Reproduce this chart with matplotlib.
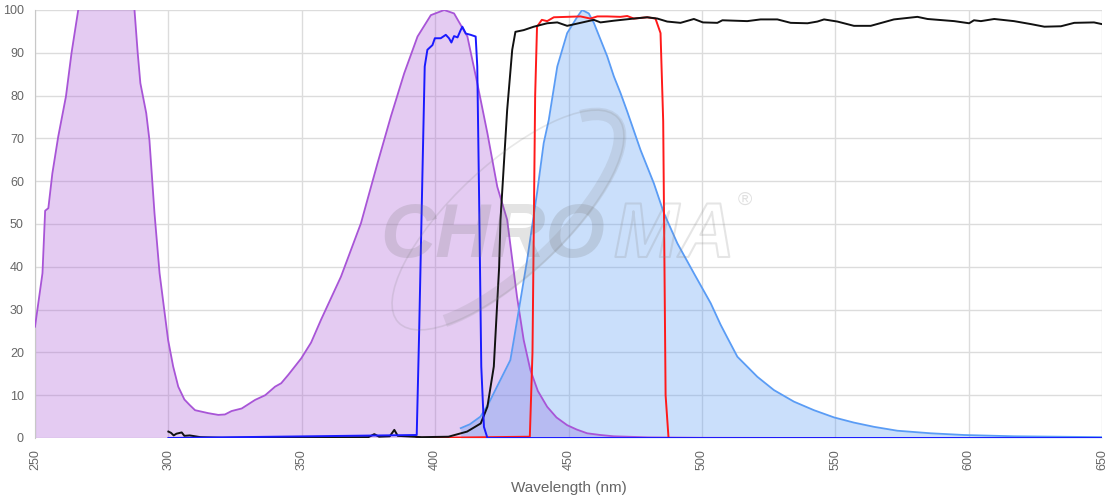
import matplotlib
matplotlib.use("Agg")
import matplotlib.pyplot as plt
from matplotlib.patches import Ellipse, Arc
from matplotlib.transforms import IdentityTransform
import matplotlib.patheffects as pe

plt.rcParams['font.family'] = ['Liberation Sans', 'DejaVu Sans']

# ---------------- data ----------------
x_ticks = [250, 300, 350, 400, 450, 500, 550, 600, 650]
y_ticks = [0, 10, 20, 30, 40, 50, 60, 70, 80, 90, 100]

# Excitation spectrum (purple, filled)
ex_wl = [250, 252.8, 253.8, 255, 256.5, 258.7, 261.6, 263.7, 266.2, 270, 274, 278, 282, 285,
         287.3, 288.5, 289.5, 291.7, 292.9, 294.8, 296.7, 299.9, 301.8, 303.7, 306, 308, 310,
         315, 318.7, 321.2, 323.7, 327.5, 332.5, 336.3, 340, 342.3, 345, 349.8, 353.5, 357.2,
         364.7, 372.2, 378.4, 383.4, 388.4, 393.4, 398.4, 403.4, 407.1, 412.1, 415.8, 419.6,
         423.3, 427, 430.7, 433.2, 435.7, 438.5, 442, 445.5, 449.5, 453, 457, 462, 467, 480,
         500, 550]
ex_val = [26, 38.5, 53.1, 53.7, 61.8, 70.4, 79.8, 90, 100, 110, 116, 118, 115, 107,
          100, 90, 82.9, 75.9, 69.6, 52.5, 38.5, 22.9, 16.7, 12, 9, 7.7, 6.5,
          5.8, 5.4, 5.5, 6.3, 6.9, 8.9, 10, 12, 12.8, 14.8, 18.6, 22.3, 27.6,
          37.7, 50.2, 64.2, 75.1, 85.2, 93.8, 98.8, 100, 99.2, 93.8, 82.9, 71.2,
          58.7, 51, 33, 22.9, 15.9, 11, 7.3, 4.8, 3, 2, 1.1, 0.7, 0.4, 0.15,
          0.05, 0]

# Emission spectrum (light blue, filled)
em_wl = [409.6, 413, 417, 420, 423.2, 428.2, 429.5, 434.5, 438.2, 440.7, 442.6, 445.8,
         449.5, 453.3, 455.1, 457.6, 459.5, 462, 464.5, 467, 469.5, 472, 477, 482, 485.8,
         490.8, 497, 503.3, 507, 509.5, 513.3, 520.8, 527, 534.5, 542, 549.6, 557, 564.6,
         573.3, 585.8, 598.3, 617, 650]
em_val = [2.3, 3.2, 5, 8, 12, 18.2, 22.9, 41.6, 57.2, 68.9, 74.3, 86.8,
          94.6, 98.4, 100, 99.2, 97, 93.1, 89.2, 84.5, 80.6, 76.3, 67.3, 59.5, 52.5,
          45.5, 38.5, 31.5, 26.5, 23.5, 19, 14.3, 11.2, 8.5, 6.5, 4.8, 3.6, 2.6,
          1.7, 1.1, 0.7, 0.4, 0.2]

# Excitation filter (blue)
exf_wl = [300, 393.1, 394, 395.3, 396.1, 397.1, 399, 399.9, 402.1, 404, 405.2, 406.1,
          407.1, 408.4, 409.5, 410.2, 411.5, 413.3, 415.2, 415.8, 416.5, 417.3, 418.3,
          419.6, 650]
exf_val = [0, 0.7, 24.5, 63.4, 86.8, 90.7, 91.8, 93.4, 93.4, 94.2, 93.4, 92.4,
           93.9, 93.6, 95.2, 96.1, 94.5, 94.2, 93.8, 86.8, 55.6, 16.7, 2.6,
           0, 0]

# Dichroic mirror (black)
dm_wl = [300, 301, 302, 303, 305, 306, 308, 310, 312, 320, 350, 375, 377.2, 379, 383,
         384.7, 386, 395, 405, 412, 417.1, 419.6, 422, 424, 424.5, 427, 428.9, 430.1,
         433.2, 437, 442, 445.8, 449.5, 454.5, 459.5, 462, 467, 474.5, 479.5, 483.3, 487,
         492, 497, 500.4, 505.8, 507.7, 517, 522, 528.3, 533.3, 539.6, 543.3, 545.8,
         550.8, 557, 563.3, 572, 580.8, 584.6, 594.6, 600.2, 602, 604.6, 609.6, 617,
         623.4, 628.4, 634.6, 639.6, 647, 650]
dm_val = [1.5, 1.2, 0.6, 1.0, 1.3, 0.5, 0.6, 0.4, 0.2, 0.05, 0.1, 0.2, 0.9, 0.3, 0.4,
          1.9, 0.5, 0.2, 0.3, 1.5, 3.4, 7.3, 16.7, 40, 50.9, 76.6, 90.7, 94.9,
          95.3, 96.1, 96.9, 97.1, 96.3, 97.0, 97.7, 97.1, 97.5, 98.0, 98.3, 98.0, 97.3,
          97.0, 97.9, 97.1, 97.0, 97.6, 97.4, 97.8, 97.8, 97.0, 96.9, 97.3, 97.8,
          97.3, 96.3, 96.3, 97.8, 98.4, 97.9, 97.4, 96.9, 97.6, 97.4, 97.9, 97.4,
          96.7, 96.1, 96.2, 97.0, 97.1, 96.7]

# Emission filter (red)
emf_wl = [393, 435.5, 436.5, 437.5, 438.2, 440, 442, 444.5, 449.5, 454.5, 458.2, 460.8,
          464.5, 469.5, 472, 474.5, 479.5, 482.6, 484.5, 485.5, 486.4, 487.5, 550]
emf_val = [0, 0.3, 20, 80, 96.1, 97.7, 97.4, 98.3, 98.4, 98.5, 98.0, 98.5,
           98.5, 98.4, 98.6, 98.0, 98.3, 98.0, 94.6, 74, 10, 0, 0]

# ---------------- figure ----------------
fig = plt.figure(figsize=(11.2, 5.0), dpi=100)
ax = fig.add_axes([35/1120, 1 - 438/500, (1102 - 35)/1120, 428/500])

purple = '#a855d7'
lightblue = '#5a9cf5'

ax.fill_between(ex_wl, ex_val, 0, color=purple, alpha=0.3, lw=0, zorder=2)
ax.plot(ex_wl, ex_val, color=purple, lw=1.3, zorder=3)

ax.fill_between(em_wl, em_val, 0, color=lightblue, alpha=0.32, lw=0, zorder=2)
ax.plot(em_wl, em_val, color=lightblue, lw=1.3, zorder=3)

ax.plot(emf_wl, emf_val, color='#ff1a1a', lw=1.4, zorder=4)
ax.plot(dm_wl, dm_val, color='#111111', lw=1.4, zorder=5)
ax.plot(exf_wl, exf_val, color='#1a1aff', lw=1.4, zorder=6)

ax.set_xlim(x_ticks[0], x_ticks[-1])
ax.set_ylim(y_ticks[0], y_ticks[-1])
ax.set_xticks(x_ticks)
ax.set_yticks(y_ticks)
ax.set_xticklabels([str(t) for t in x_ticks], rotation=90)
ax.tick_params(axis='both', length=0, labelsize=9, labelcolor='#666666')
ax.tick_params(axis='x', pad=8)
ax.tick_params(axis='y', pad=8)
ax.grid(True, color='#dcdcdc', lw=1, zorder=0)
ax.set_axisbelow(True)
for s in ['top', 'right', 'bottom']:
    ax.spines[s].set_visible(False)
ax.spines['left'].set_color('#c8c8c8')
ax.set_xlabel('Wavelength (nm)', fontsize=11, color='#666666', labelpad=8)

# ---------------- watermark ----------------
tr = IdentityTransform()
wm = (0.45, 0.45, 0.45, 0.2)
fig.text(380, 500 - 257, 'CHRO', transform=tr, fontsize=55, fontweight='bold',
         fontstyle='italic', color=wm, ha='left', va='baseline', zorder=10)
fig.text(614, 500 - 257, 'MA', transform=tr, fontsize=56, fontweight='bold',
         fontstyle='italic', color=(1, 1, 1, 0), ha='left', va='baseline', zorder=10,
         path_effects=[pe.withStroke(linewidth=1.5, foreground=(0.55, 0.55, 0.55, 0.22))])
fig.text(745, 500 - 200, '®', transform=tr, fontsize=14, color=(0.6, 0.6, 0.6, 0.3),
         ha='center', va='center', zorder=10)
ring = Ellipse((508, 500 - 220), 300, 110, angle=43, transform=tr, fill=False,
               edgecolor=(0.5, 0.5, 0.5, 0.18), lw=1.2, zorder=10)
fig.patches.append(ring)
thick = Arc((508, 500 - 220), 292, 100, angle=43, theta1=195, theta2=372, transform=tr,
            edgecolor=(0.5, 0.5, 0.5, 0.16), lw=9, zorder=10)
fig.patches.append(thick)

fig.savefig('out.png', dpi=100)
